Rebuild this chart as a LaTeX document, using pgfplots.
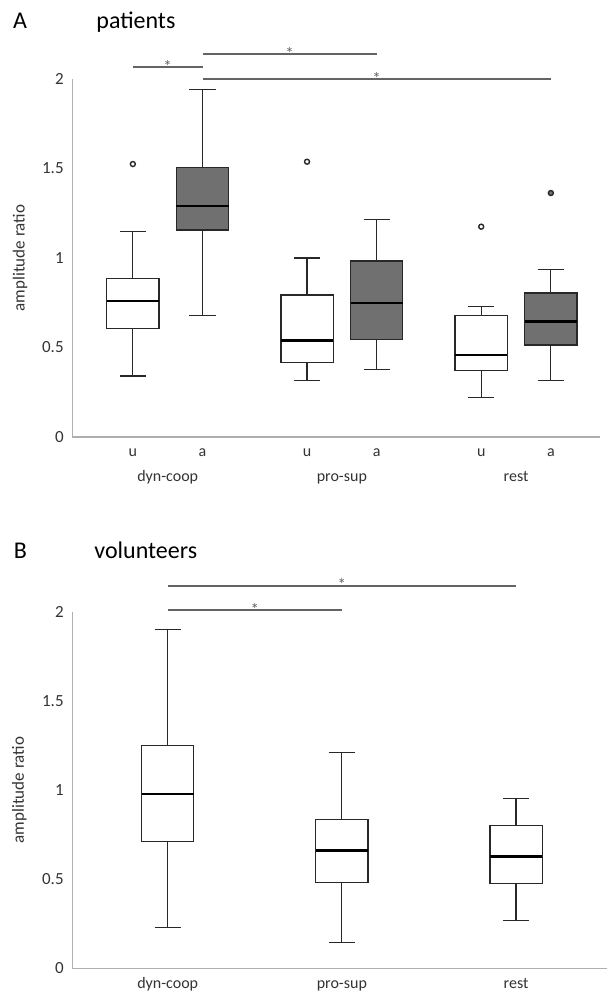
\documentclass[border=0pt]{standalone}
\usepackage{pgfplots}
\pgfplotsset{compat=1.18}
\usepgfplotslibrary{statistics}
\usepackage{fontspec}
\setmainfont{Carlito}

\definecolor{boxfill}{RGB}{112,112,112}
\definecolor{axisgray}{RGB}{175,175,175}
\definecolor{sigline}{RGB}{100,100,100}
\definecolor{boxline}{RGB}{40,40,40}

\tikzset{
  sig/.style={draw=sigline, line width=0.9pt},
  star/.style={font=\fontsize{8.5}{9}\selectfont, text=sigline, anchor=base, inner sep=0pt, yshift=-2.6pt},
}

\pgfplotsset{
  panel/.style={
    scale only axis,
    anchor=south west,
    axis lines*=left,
    axis line style={draw=axisgray, line width=0.7pt, -},
    ymin=0, ymax=2,
    ytick={0,0.5,1,1.5,2},
    yticklabels={0,0.5,1,1.5,2},
    /pgf/number format/assume math mode=true,
    major tick length=0pt,
    tick style={draw=none},
    xmin=-0.5477,
    yticklabel style={font=\fontsize{8.5}{10}\selectfont, text=black!80, xshift=-0.8pt},
    xticklabel style={font=\fontsize{8}{9}\selectfont, text=black!80, anchor=base},
    every axis y label/.style={at={(axis description cs:-0.099,0.5)}, rotate=90, anchor=center,
      font=\fontsize{8.5}{10}\selectfont, text=black!80},
    ylabel={amplitude ratio},
    clip=false,
    boxplot/draw direction=y,
    boxplot/box extend=0.3,
    boxplot/whisker extend=0.15,
    boxplot/every median/.style={draw=black, line width=1.2pt},
  },
  ubox/.style={draw=boxline, fill=white, line width=0.6pt, solid,
    mark=o, mark size=1.25pt, mark options={draw=boxline, fill=white, line width=0.7pt}},
  abox/.style={draw=boxline, fill=boxfill, line width=0.6pt, solid,
    mark=*, mark size=1.25pt, mark options={draw=boxline, fill=boxfill, line width=0.7pt}},
}

\begin{document}
\begin{tikzpicture}
\path[use as bounding box] (0,0) rectangle (303.5pt,-496.5pt);

\node[anchor=base west, inner sep=0pt, font=\fontsize{12}{14}\selectfont] at (6.3pt,-14pt) {A};
\node[anchor=base west, inner sep=0pt, font=\fontsize{12}{14}\selectfont] at (48pt,-14pt) {patients};
\node[anchor=base west, inner sep=0pt, font=\fontsize{12}{14}\selectfont] at (6.7pt,-279pt) {B};
\node[anchor=base west, inner sep=0pt, font=\fontsize{12}{14}\selectfont] at (47pt,-279pt) {volunteers};

% ---------------- Panel A: patients ----------------
\begin{axis}[panel,
  at={(36.15pt,-218.5pt)},
  width=263.85pt, height=179pt,
  xmax=2.482,
  xtick={-0.2,0.2,0.8,1.2,1.8,2.2},
  xticklabels={u,a,u,a,u,a},
  xticklabel style={yshift=-9.5pt},
  extra x ticks={0,1,2},
  extra x tick labels={dyn-coop,pro-sup,rest},
  extra x tick style={xticklabel style={yshift=-12.8pt}},
]
% dyn-coop
\addplot[ubox, boxplot prepared={draw position=-0.2,
  lower whisker=0.341, lower quartile=0.605, median=0.760,
  upper quartile=0.887, upper whisker=1.147}] coordinates {(0,1.525)};
\addplot[abox, boxplot prepared={draw position=0.2,
  lower whisker=0.678, lower quartile=1.156, median=1.292,
  upper quartile=1.505, upper whisker=1.940}] coordinates {};
% pro-sup
\addplot[ubox, boxplot prepared={draw position=0.8,
  lower whisker=0.315, lower quartile=0.417, median=0.540,
  upper quartile=0.793, upper whisker=1.000}] coordinates {(0,1.538)};
\addplot[abox, boxplot prepared={draw position=1.2,
  lower whisker=0.378, lower quartile=0.547, median=0.750,
  upper quartile=0.983, upper whisker=1.214}] coordinates {};
% rest
\addplot[ubox, boxplot prepared={draw position=1.8,
  lower whisker=0.222, lower quartile=0.373, median=0.458,
  upper quartile=0.678, upper whisker=0.728}] coordinates {(0,1.175)};
\addplot[abox, boxplot prepared={draw position=2.2,
  lower whisker=0.315, lower quartile=0.514, median=0.646,
  upper quartile=0.804, upper whisker=0.935}] coordinates {(0,1.363)};
% significance
\draw[sig] (axis cs:-0.2,2.067) -- (axis cs:0.2,2.067);
\node[star] at (axis cs:0,2.067) {*};
\draw[sig] (axis cs:0.2,2.139) -- (axis cs:1.2,2.139);
\node[star] at (axis cs:0.7,2.139) {*};
\draw[sig] (axis cs:0.2,2.000) -- (axis cs:2.2,2.000);
\node[star] at (axis cs:1.2,2.000) {*};
\end{axis}

% ---------------- Panel B: volunteers ----------------
\begin{axis}[panel,
  at={(36.15pt,-484.15pt)},
  width=267.35pt, height=178.3pt,
  xmax=2.522,
  xtick={0,1,2},
  xticklabels={dyn-coop,pro-sup,rest},
  xticklabel style={yshift=-10pt},
]
\addplot[ubox, boxplot prepared={draw position=0,
  lower whisker=0.228, lower quartile=0.710, median=0.977,
  upper quartile=1.248, upper whisker=1.902}] coordinates {};
\addplot[ubox, boxplot prepared={draw position=1,
  lower whisker=0.144, lower quartile=0.482, median=0.660,
  upper quartile=0.836, upper whisker=1.211}] coordinates {};
\addplot[ubox, boxplot prepared={draw position=2,
  lower whisker=0.267, lower quartile=0.474, median=0.628,
  upper quartile=0.800, upper whisker=0.951}] coordinates {};
% significance
\draw[sig] (axis cs:0,2.146) -- (axis cs:2,2.146);
\node[star] at (axis cs:1,2.146) {*};
\draw[sig] (axis cs:0,2.010) -- (axis cs:1,2.010);
\node[star] at (axis cs:0.5,2.010) {*};
\end{axis}
\end{tikzpicture}
\end{document}
